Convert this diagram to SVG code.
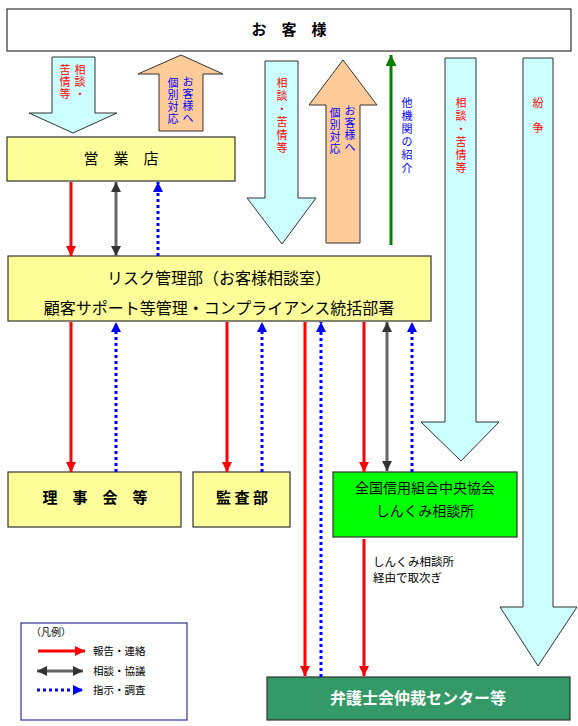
<svg xmlns="http://www.w3.org/2000/svg" width="578" height="726" viewBox="0 0 578 726">
<defs>
<style>
text{font-family:"Noto Sans CJK JP","Noto Sans CJK SC",sans-serif;}
.box{stroke:#333;stroke-width:1.2;}
.yel{fill:#FFFF99;}
.cyan{fill:#CCFFFF;stroke:#333;stroke-width:1;}
.ora{fill:#FFCC99;stroke:#333;stroke-width:1;}
.red{stroke:#FF0000;stroke-width:3;fill:none;}
.gray{stroke:#666;stroke-width:3;fill:none;}
.blue{stroke:#0000FF;stroke-width:3;fill:none;stroke-dasharray:3 3;}
.tr{fill:#FF0000;font-size:11px;text-anchor:middle;}
.tb{fill:#0000FF;font-size:11px;text-anchor:middle;}
.lbl{font-size:15px;text-anchor:middle;fill:#000;}
</style>
<marker id="mr" viewBox="0 0 10 10" refX="10" refY="5" markerWidth="10" markerHeight="10" markerUnits="userSpaceOnUse" orient="auto"><path d="M0,0 L10,5 L0,10 Z" fill="#FF0000"/></marker>
<marker id="mg" viewBox="0 0 10 10" refX="10" refY="5" markerWidth="10" markerHeight="10" markerUnits="userSpaceOnUse" orient="auto-start-reverse"><path d="M0,0 L10,5 L0,10 Z" fill="#333"/></marker>
<marker id="mb" viewBox="0 0 10 10" refX="10" refY="5" markerWidth="10" markerHeight="10" markerUnits="userSpaceOnUse" orient="auto"><path d="M0,0 L10,5 L0,10 Z" fill="#0000FF"/></marker>
<marker id="mgr" viewBox="0 0 10 10" refX="10" refY="5" markerWidth="11" markerHeight="11" markerUnits="userSpaceOnUse" orient="auto"><path d="M0,0 L10,5 L0,10 Z" fill="#008000"/></marker>
</defs>
<rect width="578" height="726" fill="#fff"/>

<g id="customer">
<rect class="box" x="7" y="9" width="564" height="42" fill="#fff"/>
<text x="289" y="35" class="lbl" font-weight="bold">お　客　様</text>
</g>

<g id="flow-arrows">
<polygon class="cyan" points="52,57 95,57 95,113 117,113 73,133 29,113 52,113"/>
<text class="tr"><tspan x="80" y="74">相</tspan><tspan x="80" dy="12">談</tspan><tspan x="80" dy="12">・</tspan></text>
<text class="tr"><tspan x="65" y="74">苦</tspan><tspan x="65" dy="12">情</tspan><tspan x="65" dy="12">等</tspan></text>

<polygon class="ora" points="159,131 203,131 203,74 223,74 181,55 138,74 159,74"/>
<text class="tb"><tspan x="188" y="86">お</tspan><tspan x="188" dy="12">客</tspan><tspan x="188" dy="12">様</tspan><tspan x="188" dy="12">へ</tspan></text>
<text class="tb"><tspan x="173" y="87">個</tspan><tspan x="173" dy="12">別</tspan><tspan x="173" dy="12">対</tspan><tspan x="173" dy="12">応</tspan></text>

<polygon class="cyan" points="265,61 298,61 298,198 316,198 282,244 247,198 265,198"/>
<text class="tr"><tspan x="282" y="87">相</tspan><tspan x="282" dy="13">談</tspan><tspan x="282" dy="13">・</tspan><tspan x="282" dy="13">苦</tspan><tspan x="282" dy="13">情</tspan><tspan x="282" dy="13">等</tspan></text>

<polygon class="ora" points="326,243 360,243 360,105 377,105 343,60 309,105 326,105"/>
<text class="tb"><tspan x="350" y="115">お</tspan><tspan x="350" dy="12">客</tspan><tspan x="350" dy="12">様</tspan><tspan x="350" dy="12">へ</tspan></text>
<text class="tb"><tspan x="335" y="117">個</tspan><tspan x="335" dy="12">別</tspan><tspan x="335" dy="12">対</tspan><tspan x="335" dy="12">応</tspan></text>

<line x1="391" y1="245" x2="391" y2="55" stroke="#008000" stroke-width="3" marker-end="url(#mgr)"/>
<text class="tb"><tspan x="407" y="107">他</tspan><tspan x="407" dy="13">機</tspan><tspan x="407" dy="13">関</tspan><tspan x="407" dy="13">の</tspan><tspan x="407" dy="13">紹</tspan><tspan x="407" dy="13">介</tspan></text>

<polygon class="cyan" points="445,58 476,58 476,422 499,422 461,461 421,422 445,422"/>
<text class="tr"><tspan x="461" y="107">相</tspan><tspan x="461" dy="13">談</tspan><tspan x="461" dy="13">・</tspan><tspan x="461" dy="13">苦</tspan><tspan x="461" dy="13">情</tspan><tspan x="461" dy="13">等</tspan></text>

<polygon class="cyan" points="523,58 553,58 553,607 577,607 538,666 500,607 523,607"/>
<text class="tr"><tspan x="538" y="107">紛</tspan><tspan x="538" y="132">争</tspan></text>
</g>

<g id="branch">
<rect class="box yel" x="7" y="137" width="228" height="44"/>
<text x="121" y="164" class="lbl">営　業　店</text>
</g>

<g id="risk">
<rect class="box yel" x="8" y="256" width="423" height="65"/>
<text x="219" y="284" font-size="16" text-anchor="middle">リスク管理部（お客様相談室）</text>
<text x="219" y="314" font-size="16" text-anchor="middle">顧客サポート等管理・コンプライアンス統括部署</text>
</g>

<g id="board">
<rect class="box yel" x="8" y="472" width="173" height="55"/>
<text x="95" y="503" class="lbl" font-weight="bold">理　事　会　等</text>
</g>

<g id="audit">
<rect class="box yel" x="193" y="472" width="97" height="55"/>
<text x="242" y="503" class="lbl" font-weight="bold">監 査 部</text>
</g>

<g id="shinkumi">
<rect class="box" x="333" y="472" width="184" height="65" fill="#00FF00"/>
<text x="425" y="493" font-size="14" text-anchor="middle">全国信用組合中央協会</text>
<text x="425" y="516" font-size="14" text-anchor="middle">しんくみ相談所</text>
</g>

<g id="bar">
<rect class="box" x="267" y="677" width="303" height="43" fill="#339966"/>
<text x="418" y="704" font-size="16" font-weight="bold" fill="#fff" text-anchor="middle">弁護士会仲裁センター等</text>
</g>

<g id="connectors">
<line class="red" x1="71" y1="182" x2="71" y2="256" marker-end="url(#mr)"/>
<line class="gray" x1="116" y1="182" x2="116" y2="256" marker-start="url(#mg)" marker-end="url(#mg)"/>
<line class="blue" x1="158" y1="256" x2="158" y2="182" marker-end="url(#mb)"/>

<line class="red" x1="71" y1="322" x2="71" y2="472" marker-end="url(#mr)"/>
<line class="blue" x1="116" y1="472" x2="116" y2="322" marker-end="url(#mb)"/>
<line class="red" x1="227" y1="322" x2="227" y2="472" marker-end="url(#mr)"/>
<line class="blue" x1="262" y1="472" x2="262" y2="322" marker-end="url(#mb)"/>
<line class="red" x1="305" y1="322" x2="305" y2="676" marker-end="url(#mr)"/>
<line class="blue" x1="321" y1="677" x2="321" y2="322" marker-end="url(#mb)"/>
<line class="red" x1="364" y1="322" x2="364" y2="472" marker-end="url(#mr)"/>
<line class="gray" x1="387" y1="322" x2="387" y2="471" marker-start="url(#mg)" marker-end="url(#mg)"/>
<line class="blue" x1="412" y1="472" x2="412" y2="322" marker-end="url(#mb)"/>

<line class="red" x1="364" y1="539" x2="364" y2="676" marker-end="url(#mr)"/>
<text x="373" y="566" font-size="11.5">しんくみ相談所</text>
<text x="373" y="582" font-size="11.5">経由で取次ぎ</text>
</g>

<g id="legend">
<rect x="21" y="623" width="166" height="97" fill="#fff" stroke="#333399" stroke-width="1.2"/>
<text x="31" y="636" font-size="10">（凡例）</text>
<line class="red" x1="38" y1="651" x2="85" y2="651" marker-end="url(#mr)"/>
<text x="93" y="655" font-size="10.5">報告・連絡</text>
<line class="gray" x1="37" y1="671" x2="83" y2="671" marker-start="url(#mg)" marker-end="url(#mg)"/>
<text x="93" y="675" font-size="10.5">相談・協議</text>
<line class="blue" x1="37" y1="690" x2="83" y2="690" marker-end="url(#mb)"/>
<text x="93" y="694" font-size="10.5">指示・調査</text>
</g>
</svg>
